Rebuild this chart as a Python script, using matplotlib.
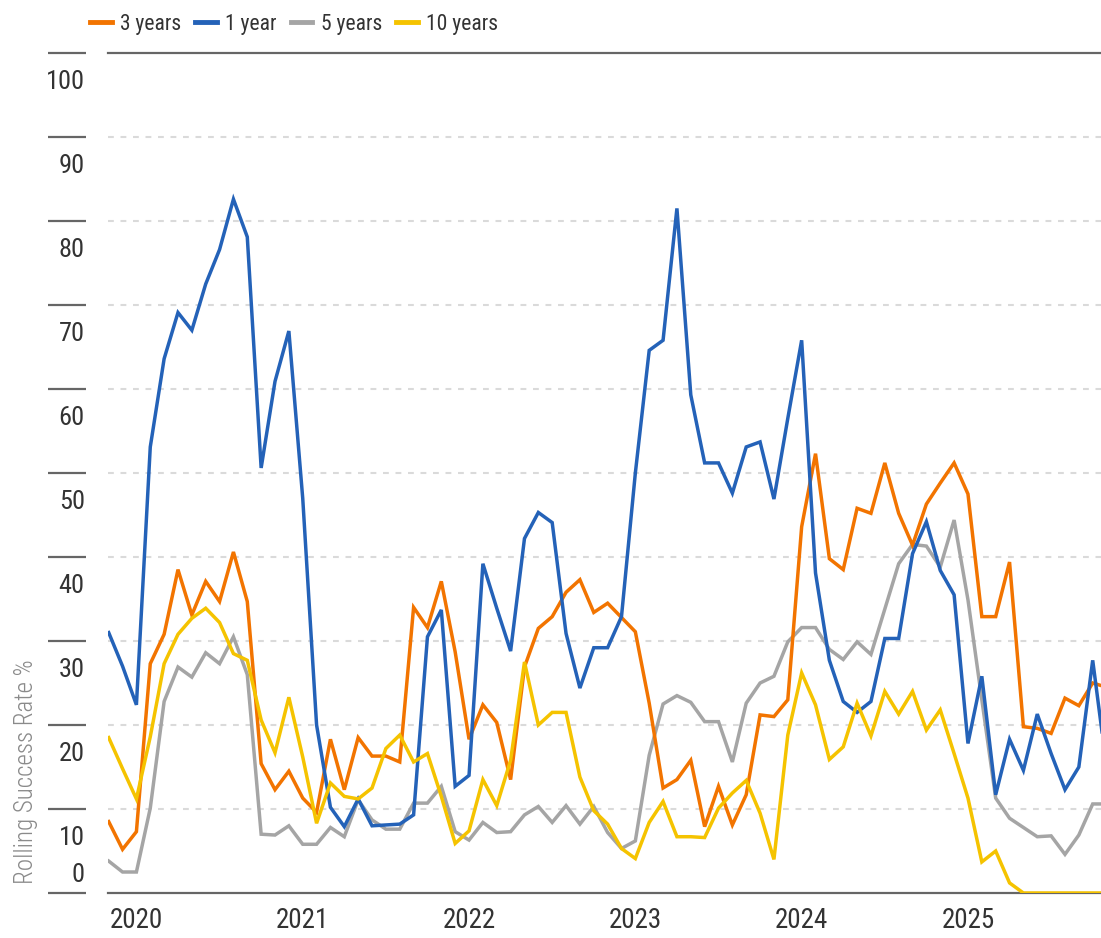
import matplotlib
matplotlib.use("Agg")
import matplotlib.pyplot as plt
import numpy as np
import pandas as pd

# ---- data (monthly, Nov 2019 .. Nov 2025) ----
months = pd.date_range("2019-11-01", periods=73, freq="MS")

one_year = [31, 27, 22.4, 53.1, 63.6, 69.1, 67.0, 72.5, 76.6, 82.6,
            78.1, 50.6, 60.9, 66.9, 47, 20, 10.2, 7.9, 11.2, 8.0,
            8.1, 8.2, 9.3, 30.5, 33.7, 12.7, 14.0, 39.2, 33.9, 28.8,
            42.2, 45.3, 44.1, 30.9, 24.4, 29.2, 29.2, 32.9, 50, 64.6,
            65.8, 81.5, 59.3, 51.2, 51.2, 47.6, 53.1, 53.7, 46.9, 56.5,
            65.8, 38.1, 27.7, 22.8, 21.5, 22.8, 30.3, 30.3, 40.4, 44.2,
            38.4, 35.5, 17.8, 25.8, 11.7, 18.3, 14.6, 21.3, 16.6, 12.3,
            15.0, 27.7, 15.0]

three_years = [8.5, 5.2, 7.3, 27.3, 30.8, 38.5, 33.1, 37.1, 34.7, 40.6,
               34.7, 15.4, 12.3, 14.5, 11.3, 9.6, 18.3, 12.3, 18.5, 16.3,
               16.3, 15.6, 34.0, 31.6, 37.1, 28.7, 18.3, 22.4, 20.3, 13.5,
               26.9, 31.5, 32.9, 35.8, 37.3, 33.4, 34.5, 32.8, 31.1, 22.6,
               12.5, 13.5, 15.8, 7.9, 12.7, 8.1, 11.7, 21.2, 21.0, 23.0,
               43.6, 52.3, 39.8, 38.5, 45.8, 45.2, 51.2, 45.2, 41.4, 46.3,
               48.8, 51.2, 47.5, 32.9, 32.9, 39.4, 19.8, 19.6, 19.0, 23.2,
               22.3, 25.0, 24.5]

five_years = [3.8, 2.5, 2.5, 10.1, 22.8, 26.9, 25.7, 28.6, 27.3, 30.5,
              26.0, 7.0, 6.9, 8.0, 5.8, 5.8, 7.8, 6.7, 11.1, 8.7,
              7.6, 7.6, 10.7, 10.7, 12.7, 7.3, 6.3, 8.4, 7.2, 7.3,
              9.3, 10.3, 8.4, 10.4, 8.2, 10.3, 7.2, 5.3, 6.2, 16.4,
              22.5, 23.5, 22.7, 20.4, 20.4, 15.6, 22.6, 25.0, 25.8, 29.9,
              31.6, 31.6, 29.0, 27.8, 29.9, 28.4, 33.8, 39.2, 41.5, 41.3,
              38.8, 44.4, 34.9, 23.0, 11.3, 8.9, 7.8, 6.7, 6.8, 4.6,
              6.9, 10.6, 10.6]

ten_years = [18.5, 14.8, 11.2, 18.6, 27.3, 30.8, 32.7, 33.9, 32.2, 28.5,
             27.7, 20.6, 16.7, 23.3, 16.2, 8.3, 13.1, 11.5, 11.2, 12.5,
             17.2, 18.8, 15.6, 16.6, 11.5, 5.9, 7.4, 13.5, 10.4, 15.8,
             27.5, 20.0, 21.5, 21.5, 13.8, 9.8, 8.2, 5.3, 4.1, 8.4,
             10.9, 6.7, 6.7, 6.6, 10.1, 11.9, 13.4, 9.5, 4.0, 18.8,
             26.2, 22.4, 15.9, 17.4, 22.6, 18.7, 24.0, 21.3, 24.0, 19.4,
             21.8, 16.6, 11.3, 3.7, 5.0, 1.2, 0, 0, 0, 0,
             0, 0, 0]

series_labels = ["3 years", "1 year", "5 years", "10 years"]
year_labels = ["2020", "2021", "2022", "2023", "2024", "2025"]
y_values = [0, 10, 20, 30, 40, 50, 60, 70, 80, 90, 100]

# ---- styling ----
plt.rcParams["font.family"] = ["Roboto Condensed", "DejaVu Sans"]
c_orange = "#F27400"
c_blue = "#2462B8"
c_gray = "#A5A5A5"
c_yellow = "#F5C300"
c_axis = "#666666"
c_text = "#333333"

fig = plt.figure(figsize=(11.01, 9.38), dpi=100)
ax = fig.add_axes([108 / 1101, 45 / 938, 1 - 108 / 1101, 840 / 938])

x = np.arange(len(months))
lw = 2.5
l_gray, = ax.plot(x, five_years, color=c_gray, lw=lw, zorder=3, solid_joinstyle="miter")
l_orange, = ax.plot(x, three_years, color=c_orange, lw=lw, zorder=4, solid_joinstyle="miter")
l_blue, = ax.plot(x, one_year, color=c_blue, lw=lw, zorder=5, solid_joinstyle="miter")
l_yellow, = ax.plot(x, ten_years, color=c_yellow, lw=lw, zorder=6, solid_joinstyle="miter")

ax.set_xlim(-0.05, (1101 - 109) / 13.855)
ax.set_ylim(0, 100)

# gridlines
for v in y_values:
    if v in (0, 100):
        ax.axhline(v, color=c_axis, lw=1.6, zorder=2, clip_on=False)
    else:
        ax.axhline(v, color="#DADADA", lw=1.5, ls=(0, (2.8, 3.2)), zorder=1)

for s in ax.spines.values():
    s.set_visible(False)
ax.spines["left"].set_position(("outward", 15.8))

# major y ticks = tick marks at gridlines; minor = labels offset
ax.set_yticks(y_values)
ax.set_yticklabels([""] * len(y_values))
ax.tick_params(axis="y", which="major", direction="out", length=27.4,
               width=1.6, color=c_axis)
label_pos = [2.5] + [v - 3.1 for v in y_values[1:]]
ax.set_yticks(label_pos, minor=True)
ax.set_yticklabels([str(v) for v in y_values], minor=True)
ax.tick_params(axis="y", which="minor", length=0, pad=1,
               labelsize=19, labelcolor=c_text)

# x ticks
year_idx = [i for i, m in enumerate(months) if m.month == 1]
ax.set_xticks(year_idx)
ax.set_xticklabels(year_labels)
ax.tick_params(axis="x", length=0, pad=10, labelsize=19.5, labelcolor=c_text)

ax.text(-0.083, 0.145, "Rolling Success Rate %", transform=ax.transAxes,
        rotation=90, ha="center", va="center", fontsize=18,
        color="#8A8A8A", fontweight="light")

leg = fig.legend([l_orange, l_blue, l_gray, l_yellow], series_labels,
                 loc="upper left", bbox_to_anchor=(76 / 1101, 1.0),
                 ncol=4, frameon=False, fontsize=15.5, handlelength=1.0,
                 handletextpad=0.4, columnspacing=0.65, borderaxespad=0.25)
for t in leg.get_texts():
    t.set_color(c_text)
for h in leg.legend_handles:
    h.set_linewidth(3.5)

fig.savefig("out.png", dpi=100)
